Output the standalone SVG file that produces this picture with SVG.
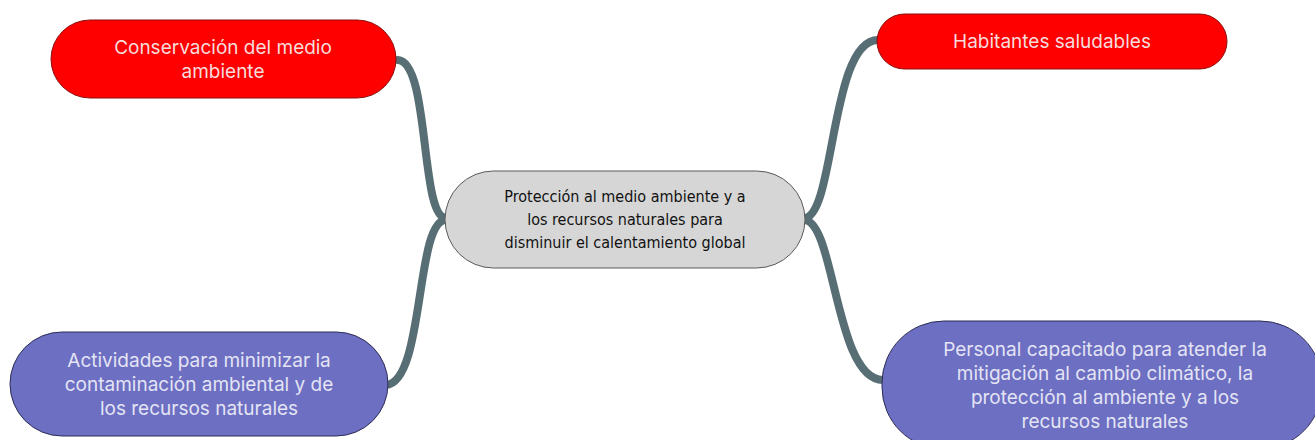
<svg xmlns="http://www.w3.org/2000/svg" width="1315" height="440" viewBox="0 0 1315 440">
<style>
.red{fill:#ff0000;stroke:#8a0f0f;stroke-width:1}
.blue{fill:#6c6fc2;stroke:#2c2c55;stroke-width:1}
.center{fill:#d6d6d6;stroke:#5a5a5a;stroke-width:1}
.conn{fill:none;stroke:#586e75;stroke-width:8;stroke-linecap:round}
.t{font-family:Inter,"Noto Sans",sans-serif;font-size:19px;text-anchor:middle}
.tr{fill:#f6dcdc}
.tb{fill:#e4e4f4}
.tc{font-family:"DejaVu Sans Condensed","Liberation Sans Narrow",sans-serif;font-stretch:condensed;font-size:16px;fill:#111;text-anchor:middle}
</style>
<g id="connectors">
<path class="conn" d="M398,60 C430,62 420,218 446,218"/>
<path class="conn" d="M386,385 C425,382 415,220 446,220"/>
<path class="conn" d="M804,218 C835,218 830,40 878,40"/>
<path class="conn" d="M804,220 C835,220 835,380 883,380"/>
</g>
<g id="node-center">
<rect class="center" x="445" y="171" width="360" height="97" rx="48.5"/>
<text class="tc" x="625" y="202">Protección al medio ambiente y a</text>
<text class="tc" x="625" y="225">los recursos naturales para</text>
<text class="tc" x="625" y="248">disminuir el calentamiento global</text>
</g>
<g id="node-conservacion">
<rect class="red" x="51" y="20" width="345" height="78" rx="39"/>
<text class="t tr" x="223" y="54">Conservación del medio</text>
<text class="t tr" x="223" y="78">ambiente</text>
</g>
<g id="node-habitantes">
<rect class="red" x="877" y="14" width="350" height="55" rx="27.5"/>
<text class="t tr" x="1052" y="48">Habitantes saludables</text>
</g>
<g id="node-actividades">
<rect class="blue" x="10" y="332" width="378" height="104" rx="52"/>
<text class="t tb" x="199" y="367">Actividades para minimizar la</text>
<text class="t tb" x="199" y="391">contaminación ambiental y de</text>
<text class="t tb" x="199" y="415">los recursos naturales</text>
</g>
<g id="node-personal">
<rect class="blue" x="882" y="321" width="440" height="128" rx="62"/>
<text class="t tb" x="1105" y="356">Personal capacitado para atender la</text>
<text class="t tb" x="1105" y="380">mitigación al cambio climático, la</text>
<text class="t tb" x="1105" y="404">protección al ambiente y a los</text>
<text class="t tb" x="1105" y="428">recursos naturales</text>
</g>
</svg>
